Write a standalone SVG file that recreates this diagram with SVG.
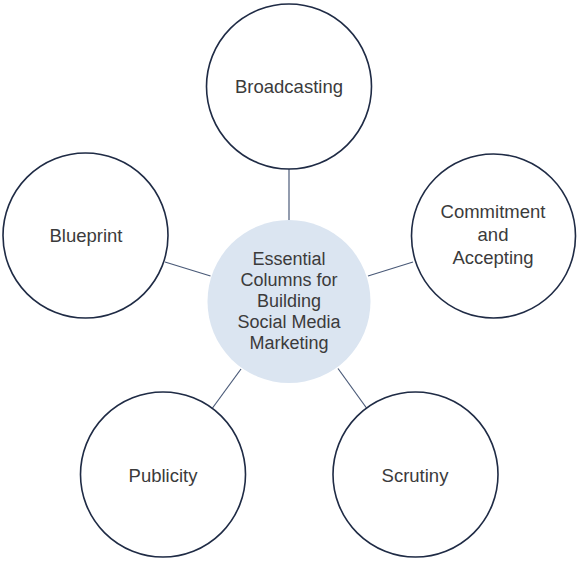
<svg xmlns="http://www.w3.org/2000/svg" width="580" height="562" viewBox="0 0 580 562">
<style>
.outer{fill:#ffffff;stroke:#1f2b45;stroke-width:1.6}
.hub{fill:#dbe5f1;stroke:none}
.lbl{font-family:"Liberation Sans",Arial,sans-serif;font-size:18.5px;fill:#3b3b3b;text-anchor:middle}
.hubl{font-family:"Liberation Sans",Arial,sans-serif;font-size:18px;fill:#3b3b3b;text-anchor:middle}
.conn{stroke:#4a5a78;stroke-width:1.2;fill:none}
</style>
<rect width="580" height="562" fill="#ffffff"/>
<g id="connectors">
<line class="conn" x1="289" y1="169" x2="289" y2="220"/>
<line class="conn" x1="165" y1="262" x2="210.5" y2="276"/>
<line class="conn" x1="368" y1="276" x2="413" y2="262"/>
<line class="conn" x1="212.5" y1="408" x2="241" y2="369"/>
<line class="conn" x1="338" y1="368.5" x2="366.5" y2="408"/>
</g>
<g id="hub">
<circle class="hub" cx="289" cy="301.5" r="81.5"/>
<text class="hubl" x="289" y="265">Essential</text>
<text class="hubl" x="289" y="286">Columns for</text>
<text class="hubl" x="289" y="307">Building</text>
<text class="hubl" x="289" y="328">Social Media</text>
<text class="hubl" x="289" y="349">Marketing</text>
</g>
<g id="broadcasting">
<circle class="outer" cx="289" cy="86.5" r="82.5"/>
<text class="lbl" x="289" y="93">Broadcasting</text>
</g>
<g id="blueprint">
<circle class="outer" cx="85.5" cy="235.5" r="82.5"/>
<text class="lbl" x="86" y="242">Blueprint</text>
</g>
<g id="commitment">
<circle class="outer" cx="493.5" cy="236" r="82"/>
<text class="lbl" x="493" y="218">Commitment</text>
<text class="lbl" x="493" y="241">and</text>
<text class="lbl" x="493" y="264">Accepting</text>
</g>
<g id="publicity">
<circle class="outer" cx="163" cy="474.5" r="82.5"/>
<text class="lbl" x="163" y="481.5">Publicity</text>
</g>
<g id="scrutiny">
<circle class="outer" cx="415.5" cy="474.5" r="82.5"/>
<text class="lbl" x="415" y="481.5">Scrutiny</text>
</g>
</svg>
